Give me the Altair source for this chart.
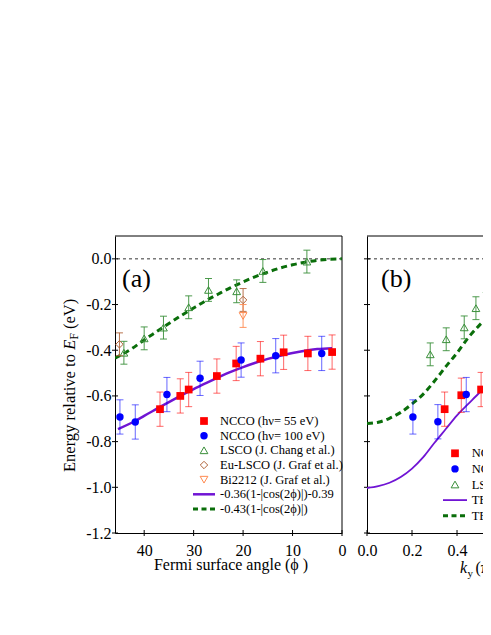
import altair as alt
import pandas as pd

# ---------------- panel (a) data: Fermi surface angle (deg) vs energy (eV) ----------------
red_phi = [36.8, 32.7, 31.0, 25.3, 21.4, 16.5, 11.8, 6.9, 2.0]
red_E = [-0.658, -0.600, -0.572, -0.513, -0.458, -0.437, -0.409, -0.414, -0.408]
red_err = [0.075] * 9

blue_phi = [44.9, 41.8, 35.4, 28.7, 20.4, 13.4, 4.1]
blue_E = [-0.692, -0.714, -0.594, -0.523, -0.443, -0.424, -0.414]
blue_err = [0.075] * 7

lsco_phi = [44.1, 40.0, 36.1, 31.0, 27.0, 21.3, 16.0, 7.1]
lsco_E = [-0.411, -0.348, -0.301, -0.212, -0.136, -0.142, -0.053, -0.012]
lsco_err = [0.05] * 8

eu_phi = [45.0, 20.0]
eu_E = [-0.374, -0.180]
eu_err = [0.05, 0.05]

bi_phi = [20.0]
bi_E = [-0.250]
bi_err = [0.05]

fit1_phi = [45.3, 42, 40, 37.5, 35, 32.5, 30, 27.5, 25, 22.5, 20, 17.5, 15, 12.5, 10, 7.5, 5, 2]
fit1_E = [-0.745, -0.712, -0.687, -0.657, -0.627, -0.598, -0.570, -0.544, -0.519, -0.495,
          -0.474, -0.455, -0.438, -0.424, -0.412, -0.402, -0.395, -0.391]

fit2_phi = [45.9, 42.5, 40, 37.5, 35, 32.5, 30, 27.5, 25, 22.5, 20, 17.5, 15, 12.5, 10, 7.5, 5, 2.5, 0]
fit2_E = [-0.435, -0.393, -0.355, -0.319, -0.283, -0.248, -0.215, -0.183, -0.154, -0.126,
          -0.101, -0.078, -0.058, -0.040, -0.026, -0.015, -0.0065, -0.0016, 0.0]

# ---------------- panel (b) data: k_y (pi/a) vs energy (eV) ----------------
b_red_k = [0.345, 0.419, 0.507]
b_red_E = [-0.658, -0.597, -0.572]
b_red_err = [0.075] * 3

b_blue_k = [0.204, 0.315, 0.441, 0.541]
b_blue_E = [-0.692, -0.713, -0.594, -0.522]
b_blue_err = [0.075] * 4

b_lsco_k = [0.281, 0.352, 0.432, 0.484, 0.533]
b_lsco_E = [-0.418, -0.352, -0.300, -0.216, -0.133]
b_lsco_err = [0.05] * 5

tb_k = [0.0, 0.05, 0.1, 0.15, 0.2, 0.25, 0.3, 0.35, 0.4, 0.45, 0.5, 0.55, 0.6]
tb_ncco_E = [-1.003, -0.995, -0.980, -0.955, -0.918, -0.868, -0.805, -0.745, -0.685, -0.635, -0.585, -0.537, -0.490]
tb_lsco_E = [-0.721, -0.715, -0.698, -0.672, -0.635, -0.592, -0.535, -0.472, -0.412, -0.345, -0.290, -0.245, -0.200]

# ---------------- axes ticks / labels ----------------
y_ticks = [0.0, -0.2, -0.4, -0.6, -0.8, -1.0, -1.2]
xa_ticks = [40, 30, 20, 10, 0]
xb_ticks = [0.0, 0.2, 0.4]

legend_a = [
    "NCCO (h\u03bd= 55 eV)",
    "NCCO (h\u03bd= 100 eV)",
    "LSCO (J. Chang et al.)",
    "Eu-LSCO (J. Graf et al.)",
    "Bi2212 (J. Graf et al.)",
    "-0.36(1-|cos(2\u03d5)|)-0.39",
    "-0.43(1-|cos(2\u03d5)|)",
]
legend_b = [
    "NCCO (h\u03bd= 55 eV)",
    "NCCO (h\u03bd= 100 eV)",
    "LSCO (J. Chang et al.)",
    "TB (NCCO)",
    "TB (LSCO)",
]

# ---------------- styling ----------------
FONT = "Liberation Serif"
W_A, W_B, H = 227, 124, 297
RED = "#ff0000"
BLUE = "#0000ff"
GREEN_PT = "#3a8f3a"
BROWN = "#b0643a"
ORANGE = "#ff8a50"
PURPLE = "#7014d4"
DGREEN = "#0a6e0a"

y_scale = alt.Scale(domain=[-1.2, 0.1], nice=False, zero=False)
xa_scale = alt.Scale(domain=[45.9, 0], nice=False, zero=False)
xb_scale = alt.Scale(domain=[0, 0.551], nice=False, zero=False)

minus_fix = "replace(format(datum.value, '.1f'), '\u2212', '-')"
ya_axis = alt.Axis(values=y_ticks, labelExpr=minus_fix, title=None, labelPadding=4)
yb_axis = alt.Axis(values=y_ticks, labels=False, title=None)
xa_axis = alt.Axis(values=xa_ticks, format="d", title=None, labelPadding=9)
xb_axis = alt.Axis(values=xb_ticks, format=".1f", title=None, labelPadding=9)

one = pd.DataFrame({"d": [0]})


def make_df(xs, ys, errs=None):
    df = pd.DataFrame({"x": xs, "y": ys})
    if errs is not None:
        df["lo"] = [y - e for y, e in zip(ys, errs)]
        df["hi"] = [y + e for y, e in zip(ys, errs)]
    return df


def panel_helpers(xscale, xaxis, yaxis):
    def X(f):
        return alt.X(f"{f}:Q", scale=xscale, axis=xaxis)

    def Y(f):
        return alt.Y(f"{f}:Q", scale=y_scale, axis=yaxis)

    return X, Y


def errbars(df, X, Y, color, opacity, clip):
    rule = alt.Chart(df).mark_rule(color=color, opacity=opacity, strokeWidth=1, clip=clip).encode(
        x=X("x"), y=Y("lo"), y2="hi")
    caps = alt.Chart(df).transform_fold(["lo", "hi"], as_=["k", "v"]).mark_tick(
        orient="horizontal", size=7, thickness=1, color=color, opacity=opacity, clip=clip
    ).encode(x=X("x"), y=Y("v"))
    return [rule, caps]


def pts(df, X, Y, shape, color, filled, size, clip):
    return alt.Chart(df).mark_point(shape=shape, filled=filled, size=size, color=color,
                                    opacity=1, strokeWidth=1, clip=clip).encode(x=X("x"), y=Y("y"))


def curve(df, X, Y, color, width, dash=None):
    kw = dict(color=color, strokeWidth=width, interpolate="monotone", clip=True)
    if dash:
        kw["strokeDash"] = dash
    return alt.Chart(df).mark_line(**kw).encode(x=X("x"), y=Y("y"))


def txt(label, x, y, size, style="normal", angle=0, baseline="alphabetic", clip=False, align="left"):
    return alt.Chart(pd.DataFrame({"t": [label]})).mark_text(
        align=align, baseline=baseline, font=FONT, fontSize=size, fontStyle=style,
        angle=angle, color="black", clip=clip
    ).encode(x=alt.value(x), y=alt.value(y), text="t:N")


def leg_sym(x, y, shape, color, filled, size, clip=False):
    return alt.Chart(one).mark_point(shape=shape, filled=filled, size=size, color=color,
                                     opacity=1, strokeWidth=1, clip=clip).encode(
        x=alt.value(x), y=alt.value(y))


def leg_line(x1, x2, y, color, width, dash=None):
    kw = dict(color=color, strokeWidth=width)
    if dash:
        kw["strokeDash"] = dash
    return alt.Chart(one).mark_rule(**kw).encode(x=alt.value(x1), x2=alt.value(x2), y=alt.value(y))


def frame_ticks(X, Y, xticks, width):
    yt = alt.Chart(pd.DataFrame({"y": y_ticks})).mark_rule(color="black", strokeWidth=1).encode(
        y=Y("y"), x=alt.value(-3), x2=alt.value(3))
    xt = alt.Chart(pd.DataFrame({"x": xticks})).mark_rule(color="black", strokeWidth=1).encode(
        x=X("x"), y=alt.value(H - 3), y2=alt.value(H + 3))
    zero = alt.Chart(pd.DataFrame({"y": [0.0]})).mark_rule(
        color="black", strokeWidth=0.8, strokeDash=[3, 3]).encode(y=Y("y"))
    top = alt.Chart(one).mark_rule(color="black", strokeWidth=1).encode(
        x=alt.value(0), x2=alt.value(width), y=alt.value(0))
    return [zero, yt, xt, top]


# ---------------- panel (a) ----------------
XA, YA = panel_helpers(xa_scale, xa_axis, ya_axis)
layers_a = []
layers_a += frame_ticks(XA, YA, xa_ticks, W_A)
layers_a.append(alt.Chart(one).mark_rule(color="black", strokeWidth=1).encode(
    x=alt.value(W_A), y=alt.value(0), y2=alt.value(H)))

layers_a.append(curve(make_df(fit2_phi, fit2_E), XA, YA, DGREEN, 3, [6, 4]))
layers_a.append(curve(make_df(fit1_phi, fit1_E), XA, YA, PURPLE, 2.5))

d = make_df(lsco_phi, lsco_E, lsco_err)
layers_a += errbars(d, XA, YA, GREEN_PT, 0.9, False)
layers_a.append(pts(d, XA, YA, "triangle-up", GREEN_PT, False, 60, False))
d = make_df(eu_phi, eu_E, eu_err)
layers_a += errbars(d, XA, YA, BROWN, 0.9, False)
layers_a.append(pts(d, XA, YA, "diamond", BROWN, False, 55, False))
d = make_df(bi_phi, bi_E, bi_err)
layers_a += errbars(d, XA, YA, ORANGE, 0.9, False)
layers_a.append(pts(d, XA, YA, "triangle-down", ORANGE, False, 60, False))
d = make_df(red_phi, red_E, red_err)
layers_a += errbars(d, XA, YA, RED, 0.6, False)
layers_a.append(pts(d, XA, YA, "square", RED, True, 60, False))
d = make_df(blue_phi, blue_E, blue_err)
layers_a += errbars(d, XA, YA, BLUE, 0.6, False)
layers_a.append(pts(d, XA, YA, "circle", BLUE, True, 55, False))

# legend (a)
rows_a = [185, 199.7, 214.3, 229, 243.7, 258.3, 273]
layers_a.append(leg_sym(89, rows_a[0], "square", RED, True, 60))
layers_a.append(leg_sym(89, rows_a[1], "circle", BLUE, True, 55))
layers_a.append(leg_sym(89, rows_a[2], "triangle-up", GREEN_PT, False, 60))
layers_a.append(leg_sym(89, rows_a[3], "diamond", BROWN, False, 55))
layers_a.append(leg_sym(89, rows_a[4], "triangle-down", ORANGE, False, 60))
layers_a.append(leg_line(78, 100, rows_a[5], PURPLE, 2.5))
layers_a.append(leg_line(78, 100, rows_a[6], DGREEN, 3, [5, 3.5]))
for lab, ry in zip(legend_a, rows_a):
    layers_a.append(txt(lab, 105, ry, 12.5, baseline="middle"))

# labels / titles (a)
layers_a.append(txt("(a)", 7, 51, 26))
layers_a.append(txt("Fermi surface angle (\u03d5 )", 116, 334, 16, align="center"))
# y title: Energy relative to E_F (eV), rotated
layers_a.append(txt("Energy relative to", -40.5, 236, 16.5, angle=270))
layers_a.append(txt("E", -40.5, 113.7, 16.5, style="italic", angle=270))
layers_a.append(txt("F", -37.0, 103.6, 11.5, angle=270))
layers_a.append(txt("(eV)", -40.5, 93.0, 16.5, angle=270))

panel_a = alt.layer(*layers_a).properties(width=W_A, height=H)

# ---------------- panel (b) ----------------
XB, YB = panel_helpers(xb_scale, xb_axis, yb_axis)
layers_b = []
layers_b += frame_ticks(XB, YB, xb_ticks, W_B)
layers_b.append(curve(make_df(tb_k, tb_lsco_E), XB, YB, DGREEN, 3, [6, 4]))
layers_b.append(curve(make_df(tb_k, tb_ncco_E), XB, YB, PURPLE, 1.8))

d = make_df(b_lsco_k, b_lsco_E, b_lsco_err)
layers_b += errbars(d, XB, YB, GREEN_PT, 0.9, True)
layers_b.append(pts(d, XB, YB, "triangle-up", GREEN_PT, False, 60, True))
d = make_df(b_red_k, b_red_E, b_red_err)
layers_b += errbars(d, XB, YB, RED, 0.6, True)
layers_b.append(pts(d, XB, YB, "square", RED, True, 60, True))
d = make_df(b_blue_k, b_blue_E, b_blue_err)
layers_b += errbars(d, XB, YB, BLUE, 0.6, True)
layers_b.append(pts(d, XB, YB, "circle", BLUE, True, 55, True))

rows_b = [217.3, 232.9, 248.5, 264.1, 279.7]
layers_b.append(leg_sym(88, rows_b[0], "square", RED, True, 60))
layers_b.append(leg_sym(88, rows_b[1], "circle", BLUE, True, 55))
layers_b.append(leg_sym(88, rows_b[2], "triangle-up", GREEN_PT, False, 60))
layers_b.append(leg_line(76, 100, rows_b[3], PURPLE, 1.8))
layers_b.append(leg_line(76, 100, rows_b[4], DGREEN, 3, [5, 3.5]))
for lab, ry in zip(legend_b, rows_b):
    layers_b.append(txt(lab, 104.7, ry, 12.5, baseline="middle", clip=True))

layers_b.append(txt("(b)", 14, 51, 26))
layers_b.append(txt("k", 93, 336.5, 16, style="italic"))
layers_b.append(txt("y", 100.5, 340.5, 11))
layers_b.append(txt("(\u03c0/a)", 108.5, 336.5, 16))

panel_b = alt.layer(*layers_b).properties(width=W_B, height=H)

# the drawing is cut at the right edge of the page, as in the reference figure
chart = alt.HConcatChart(
    hconcat=[panel_a, panel_b], spacing=25, bounds="flush",
    autosize=alt.AutoSizeParams(type="none"),
    padding={"left": 107, "top": 228, "right": 368, "bottom": 350},
).configure_view(strokeWidth=0).configure_axis(
    labelFont=FONT, labelFontSize=16, labelColor="black", domainColor="black", domainWidth=1,
    ticks=False, tickSize=0, grid=False, labelFlush=False, labelOverlap=False
)

chart.save("out.html", embed_options={"renderer": "svg", "actions": False})
